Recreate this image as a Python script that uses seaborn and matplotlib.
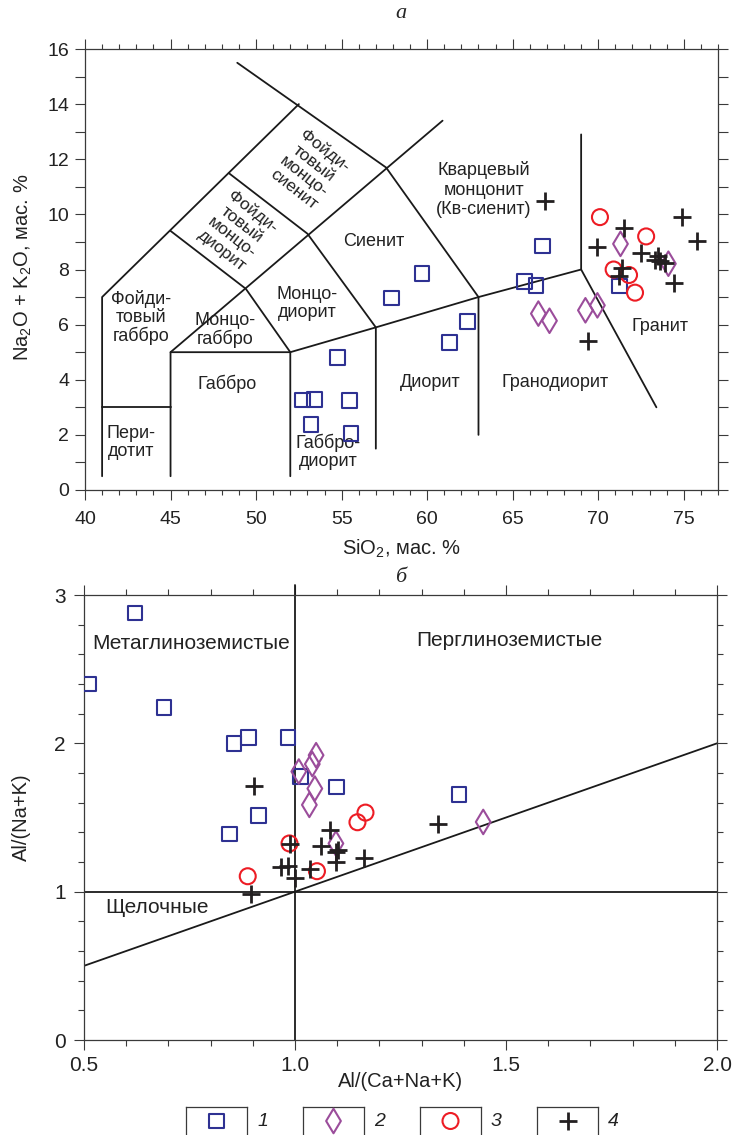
import matplotlib
matplotlib.use("Agg")
import matplotlib.pyplot as plt
import seaborn as sns
from matplotlib.ticker import MultipleLocator, FormatStrFormatter
from matplotlib import font_manager

sns.set_style("ticks")
plt.rcParams["font.family"] = ["Liberation Sans", "DejaVu Sans"]
plt.rcParams["mathtext.fontset"] = "custom"
plt.rcParams["mathtext.rm"] = "Liberation Sans"

_names = {f.name for f in font_manager.fontManager.ttflist}
NARROW = ["Liberation Sans Narrow", "Liberation Sans", "DejaVu Sans"] if "Liberation Sans Narrow" in _names \
    else ["Liberation Sans", "DejaVu Sans"]
REG = ["Liberation Sans", "DejaVu Sans"]

# ---------------- data: TAS diagram (a) ----------------
tas_sq_sio2 = [57.9, 59.7, 54.75, 52.7, 53.4, 53.2, 55.45, 55.55, 61.3, 62.35, 65.7, 66.35, 66.75, 71.25]
tas_sq_alk = [6.96, 7.85, 4.8, 3.27, 3.28, 2.38, 3.25, 2.05, 5.35, 6.12, 7.56, 7.42, 8.86, 7.4]
tas_dm_sio2 = [66.5, 67.15, 69.25, 69.95, 71.3, 74.1]
tas_dm_alk = [6.4, 6.14, 6.52, 6.7, 8.93, 8.21]
tas_ci_sio2 = [70.1, 72.8, 70.9, 71.8, 72.15]
tas_ci_alk = [9.9, 9.2, 8.0, 7.8, 7.16]
tas_pl_sio2 = [66.9, 69.9, 71.5, 72.5, 71.4, 71.2, 73.3, 73.5, 73.6, 73.9, 74.9, 75.8, 74.4, 69.4]
tas_pl_alk = [10.5, 8.8, 9.5, 8.6, 8.05, 7.75, 8.35, 8.5, 8.3, 8.23, 9.9, 9.05, 7.5, 5.4]

# classification boundaries (SiO2, Na2O+K2O)
tas_lines = [
    [(41, 0.5), (41, 7), (52.5, 14)],
    [(48.9, 15.5), (57.6, 11.7), (63, 7), (63, 2)],
    [(45, 0.5), (45, 5), (60.9, 13.4)],
    [(45, 9.4), (49.4, 7.3), (52, 5), (52, 0.5)],
    [(48.4, 11.5), (53, 9.3), (57, 5.9), (57, 1.5)],
    [(45, 5), (52, 5), (57, 5.9), (63, 7), (69, 8)],
    [(41, 3), (45, 3)],
    [(69, 12.9), (69, 8), (73.4, 3)],
]
tas_names = ["Фойди-\nтовый\nгаббро", "Пери-\nдотит", "Монцо-\nгаббро", "Габбро",
             "Монцо-\nдиорит", "Габбро-\nдиорит", "Сиенит", "Диорит", "Гранодиорит",
             "Гранит", "Кварцевый\nмонцонит\n(Кв-сиенит)"]
tas_name_x = [43.3, 42.7, 48.2, 48.3, 53.0, 54.2, 56.9, 60.2, 67.5, 73.6, 63.3]
tas_name_y = [6.25, 1.73, 5.8, 3.86, 6.75, 1.37, 9.0, 3.9, 3.9, 5.95, 10.9]
tas_rot_names = ["Фойди-\nтовый\nмонцо-\nсиенит", "Фойди-\nтовый\nмонцо-\nдиорит"]
tas_rot_x = [53.1, 48.9]
tas_rot_y = [11.6, 9.4]

# ---------------- data: Shand diagram (б) ----------------
acnk_sq = [0.510, 0.621, 0.690, 0.855, 0.890, 0.983, 0.845, 0.914, 1.013, 1.099, 1.389]
ank_sq = [2.40, 2.88, 2.24, 2.00, 2.04, 2.04, 1.39, 1.515, 1.775, 1.706, 1.657]
acnk_dm = [1.009, 1.050, 1.041, 1.047, 1.034, 1.097, 1.446]
ank_dm = [1.81, 1.92, 1.86, 1.695, 1.585, 1.325, 1.47]
acnk_ci = [0.888, 0.987, 1.167, 1.148, 1.052]
ank_ci = [1.104, 1.325, 1.533, 1.468, 1.138]
acnk_pl = [0.904, 0.989, 1.084, 1.062, 1.103, 1.097, 1.097, 1.164, 0.967, 0.983, 0.999, 1.035, 0.896, 1.340]
ank_pl = [1.71, 1.32, 1.414, 1.309, 1.279, 1.27, 1.20, 1.228, 1.168, 1.172, 1.093, 1.15, 0.985, 1.459]

shand_names = ["Метаглиноземистые", "Перглиноземистые", "Щелочные"]
shand_name_x = [0.755, 1.507, 0.672]
shand_name_y = [2.67, 2.69, 0.896]

legend_labels = ["1", "2", "3", "4"]

# ---------------- styles ----------------
C_SQ = "#2e3192"
C_DM = "#9b4d9b"
C_CI = "#ed1c24"
C_PL = "#231f20"
FRAME = "#3a3a3a"
TXT = "#222222"

W, H = 732, 1135
fig = plt.figure(figsize=(W / 100, H / 100), dpi=100)


def px_axes(l, t, r, b):
    return fig.add_axes([l / W, 1 - b / H, (r - l) / W, (b - t) / H])


def markers(ax, xs, ys, kind):
    if kind == "sq":
        sns.scatterplot(x=xs, y=ys, ax=ax, marker="s", s=10.5 ** 2,
                        facecolors="none", edgecolor=C_SQ, color=C_SQ, linewidth=1.5, zorder=3)
    elif kind == "dm":
        sns.scatterplot(x=xs, y=ys, ax=ax, marker="d", s=12.5 ** 2,
                        facecolors="none", edgecolor=C_DM, color=C_DM, linewidth=1.5, zorder=4)
    elif kind == "ci":
        sns.scatterplot(x=xs, y=ys, ax=ax, marker="o", s=11.5 ** 2,
                        facecolors="none", edgecolor=C_CI, color=C_CI, linewidth=1.5, zorder=5)
    else:
        sns.scatterplot(x=xs, y=ys, ax=ax, marker="+", s=12.5 ** 2,
                        color=C_PL, linewidth=2.0, zorder=6)


def style_axes(ax, labsize):
    for sp in ax.spines.values():
        sp.set_visible(True)
        sp.set_color(FRAME)
        sp.set_linewidth(0.9)
    ax.tick_params(which="both", direction="out", top=True, right=True,
                   color=FRAME, width=0.8, labelsize=labsize, labelcolor=TXT)
    ax.tick_params(which="major", length=7)
    for lab in ax.get_xticklabels() + ax.get_yticklabels():
        lab.set_family(NARROW)


# ================= (a) TAS =================
ax1 = px_axes(85, 49, 718, 490)
for line in tas_lines:
    xs, ys = zip(*line)
    ax1.plot(xs, ys, color="#1a1a1a", lw=1.3, zorder=2)
for name, x, y in zip(tas_names, tas_name_x, tas_name_y):
    ls = 1.2 if name.startswith("Кварц") else 1.08
    ax1.text(x, y, name, ha="center", va="center", fontsize=13, color=TXT, linespacing=ls)
for name, x, y in zip(tas_rot_names, tas_rot_x, tas_rot_y):
    ax1.text(x, y, name, ha="center", va="center", fontsize=12.5, color=TXT,
             rotation=-38, rotation_mode="anchor", linespacing=1.12)

markers(ax1, tas_sq_sio2, tas_sq_alk, "sq")
markers(ax1, tas_dm_sio2, tas_dm_alk, "dm")
markers(ax1, tas_ci_sio2, tas_ci_alk, "ci")
markers(ax1, tas_pl_sio2, tas_pl_alk, "pl")

ax1.set_xlim(40, 77)
ax1.set_ylim(0, 16)
ax1.xaxis.set_major_locator(MultipleLocator(5))
ax1.xaxis.set_minor_locator(MultipleLocator(1))
ax1.yaxis.set_major_locator(MultipleLocator(2))
ax1.yaxis.set_minor_locator(MultipleLocator(1))
style_axes(ax1, 14)
ax1.tick_params(axis="x", which="minor", length=3.5)
ax1.tick_params(axis="x", which="major", pad=8)
ax1.tick_params(axis="y", which="both", length=7, pad=4.5)
ax1.set_xlabel(r"SiO$\mathregular{_2}$, мас. %", fontsize=14.5, family=REG, color=TXT)
ax1.set_ylabel(r"Na$\mathregular{_2}$O + K$\mathregular{_2}$O, мас. %", fontsize=14.5,
               family=REG, color=TXT)
ax1.xaxis.set_label_coords(0.5, -0.108)
ax1.yaxis.set_label_coords(-0.08, 0.505)
fig.text(401 / W, 1 - 14 / H, "а", ha="center", va="center", fontsize=16,
         family=["Liberation Serif", "DejaVu Serif"], style="italic")

# ================= (б) Shand =================
ax2 = px_axes(84, 595, 717, 1040)
ax2.plot([1.0, 1.0], [0, 3.07], color="#1a1a1a", lw=1.3, clip_on=False, zorder=2)
ax2.plot([0.5, 2.0], [1.0, 1.0], color="#1a1a1a", lw=1.3, zorder=2)
ax2.plot([0.5, 2.0], [0.5, 2.0], color="#1a1a1a", lw=1.3, zorder=2)
for name, x, y in zip(shand_names, shand_name_x, shand_name_y):
    ax2.text(x, y, name, ha="center", va="center", fontsize=15, color=TXT)

markers(ax2, acnk_sq, ank_sq, "sq")
markers(ax2, acnk_dm, ank_dm, "dm")
markers(ax2, acnk_ci, ank_ci, "ci")
markers(ax2, acnk_pl, ank_pl, "pl")

ax2.set_xlim(0.5, 2.0)
ax2.set_ylim(0, 3)
ax2.xaxis.set_major_locator(MultipleLocator(0.5))
ax2.xaxis.set_minor_locator(MultipleLocator(0.1))
ax2.yaxis.set_major_locator(MultipleLocator(1))
ax2.yaxis.set_minor_locator(MultipleLocator(0.2))
ax2.xaxis.set_major_formatter(FormatStrFormatter("%.1f"))
style_axes(ax2, 15)
ax2.tick_params(which="minor", length=4)
ax2.tick_params(axis="x", which="major", pad=4.5)
ax2.tick_params(axis="y", which="major", pad=6)
ax2.set_xlabel("Al/(Ca+Na+K)", fontsize=14.5, family=REG, color=TXT)
ax2.set_ylabel("Al/(Na+K)", fontsize=14.5, family=REG, color=TXT)
ax2.xaxis.set_label_coords(0.5, -0.073)
ax2.yaxis.set_label_coords(-0.084, 0.5)
fig.text(401 / W, 1 - 578 / H, "б", ha="center", va="center", fontsize=16,
         family=["Liberation Serif", "DejaVu Serif"], style="italic")

# ================= legend boxes =================
box_left = [186, 303, 420, 537]
kinds = ["sq", "dm", "ci", "pl"]
for bl, kind, lab in zip(box_left, kinds, legend_labels):
    lax = px_axes(bl, 1107, bl + 61, 1145)
    lax.set_xlim(0, 1)
    lax.set_ylim(0, 1)
    markers(lax, [0.5], [(1145 - 1121) / 38], kind)
    lax.set_xticks([])
    lax.set_yticks([])
    for sp in lax.spines.values():
        sp.set_color(FRAME)
        sp.set_linewidth(0.9)
    fig.text((bl + 71) / W, 1 - 1121 / H, lab, ha="left", va="center", fontsize=14,
             style="italic", color=TXT)

fig.savefig("out.png", dpi=100)
